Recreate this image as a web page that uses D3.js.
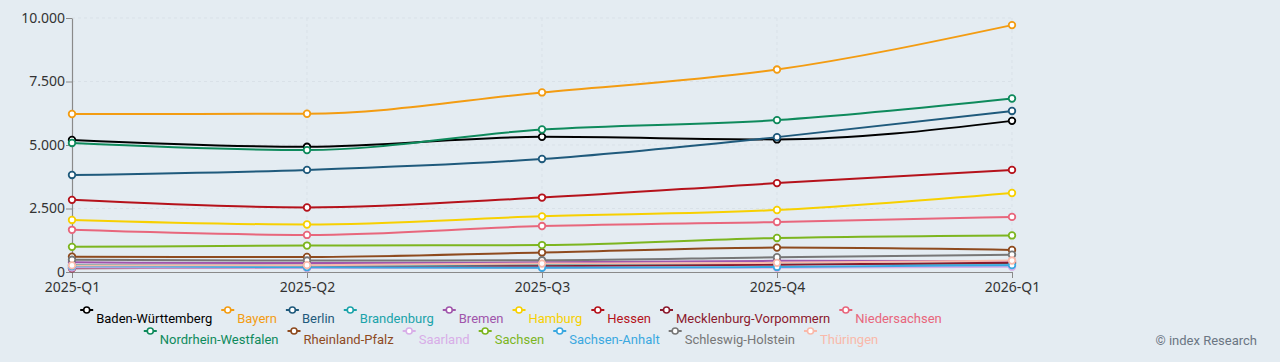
<!DOCTYPE html>
<html>
<head>
<meta charset="utf-8">
<script src="https://cdn.jsdelivr.net/npm/d3@7"></script>
<style>
  html, body { margin: 0; padding: 0; background: #e4ecf2; }
  svg { display: block; }
</style>
</head>
<body>
<svg id="chart" width="1280" height="362"></svg>
<script>
const categories = ["2025-Q1", "2025-Q2", "2025-Q3", "2025-Q4", "2026-Q1"];
const yTicks = [0, 2500, 5000, 7500, 10000];

const seriesNames = [
  "Baden-Württemberg", "Bayern", "Berlin", "Brandenburg", "Bremen", "Hamburg",
  "Hessen", "Mecklenburg-Vorpommern", "Niedersachsen", "Nordrhein-Westfalen",
  "Rheinland-Pfalz", "Saarland", "Sachsen", "Sachsen-Anhalt", "Schleswig-Holstein", "Thüringen"
];
const seriesColors = [
  "#000000", "#f39c12", "#1f5a7c", "#1aa3aa", "#a055ab", "#f7d000",
  "#b5121b", "#8b1a2e", "#e8667c", "#0e8a5c",
  "#8e4a1e", "#d8aee8", "#7cb51f", "#3aa8e0", "#777777", "#f9b9aa"
];
const valuesBW   = [5200, 4930, 5320, 5220, 5950];
const valuesBY   = [6220, 6230, 7070, 7970, 9720];
const valuesBE   = [3820, 4020, 4450, 5310, 6340];
const valuesBB   = [280, 260, 290, 320, 330];
const valuesHB   = [380, 350, 380, 440, 420];
const valuesHH   = [2050, 1870, 2190, 2440, 3110];
const valuesHE   = [2840, 2540, 2930, 3500, 4020];
const valuesMV   = [150, 180, 230, 290, 360];
const valuesNI   = [1660, 1460, 1810, 1970, 2170];
const valuesNW   = [5080, 4800, 5610, 5980, 6830];
const valuesRP   = [600, 590, 770, 960, 870];
const valuesSL   = [180, 160, 170, 170, 210];
const valuesSN   = [990, 1040, 1060, 1340, 1440];
const valuesST   = [230, 190, 170, 200, 270];
const valuesSH   = [480, 450, 460, 580, 680];
const valuesTH   = [260, 270, 330, 360, 450];

const allValues = [valuesBW, valuesBY, valuesBE, valuesBB, valuesHB, valuesHH, valuesHE, valuesMV,
  valuesNI, valuesNW, valuesRP, valuesSL, valuesSN, valuesST, valuesSH, valuesTH];

const series = seriesNames.map((n, i) => ({ name: n, color: seriesColors[i], values: allValues[i] }));

(function () {
const svg = d3.select("#chart");
const mLeft = 72, mRight = 1012, mTop = 18, mBottom = 272;

const x = d3.scalePoint().domain(categories).range([mLeft, mRight]);
const y = d3.scaleLinear().domain([0, 10000]).range([mBottom, mTop]);
const fmt = v => d3.format(",")(v).replace(/,/g, ".");

// grid (very faint)
const grid = svg.append("g");
grid.selectAll("line.h").data(yTicks.filter(t => t > 0)).join("line")
  .attr("x1", mLeft).attr("x2", mRight).attr("y1", d => y(d)).attr("y2", d => y(d))
  .attr("stroke", "#d9e1e8").attr("stroke-dasharray", "3,3").attr("stroke-width", 1);
grid.selectAll("line.v").data(categories.slice(1)).join("line")
  .attr("x1", d => x(d)).attr("x2", d => x(d)).attr("y1", mTop).attr("y2", mBottom)
  .attr("stroke", "#d9e1e8").attr("stroke-dasharray", "3,3").attr("stroke-width", 1);

// axes
const yAxis = svg.append("g").attr("transform", `translate(${mLeft},0)`)
  .call(d3.axisLeft(y).tickValues(yTicks).tickFormat(fmt).tickSize(6).tickSizeOuter(0));
const xAxis = svg.append("g").attr("transform", `translate(0,${mBottom})`)
  .call(d3.axisBottom(x).tickSize(6).tickSizeOuter(0));
[yAxis, xAxis].forEach(a => {
  a.select(".domain").attr("stroke", "#8a8a8a").attr("stroke-width", 1.2);
  a.selectAll(".tick line").attr("stroke", "#8a8a8a");
  a.selectAll("text").attr("fill", "#333").style("font-family", "'Noto Sans', sans-serif").style("font-size", "14px");
});
yAxis.selectAll("text").attr("x", -7).attr("dy", "0.3em");
xAxis.selectAll("text").attr("y", 10);

// lines
const line = d3.line().x((d, i) => x(categories[i])).y(d => y(d)).curve(d3.curveMonotoneX);
const g = svg.append("g");
series.forEach(s => {
  g.append("path").attr("d", line(s.values)).attr("fill", "none")
    .attr("stroke", s.color).attr("stroke-width", 2);
});
series.forEach(s => {
  g.selectAll(null).data(s.values).join("circle")
    .attr("cx", (d, i) => x(categories[i])).attr("cy", d => y(d)).attr("r", 3.3)
    .attr("fill", "#ffffff").attr("stroke", s.color).attr("stroke-width", 1.8);
});

// legend
const legend = svg.append("g");
const rows = [series.slice(0, 9), series.slice(9)];
const rowY = [323, 344];
const centerX = 511;
rows.forEach((row, ri) => {
  const items = row.map(s => {
    const it = legend.append("g");
    it.append("line").attr("x1", 0).attr("x2", 13).attr("y1", -13).attr("y2", -13)
      .attr("stroke", s.color).attr("stroke-width", 2);
    it.append("circle").attr("cx", 6.5).attr("cy", -13).attr("r", 3)
      .attr("fill", "#ffffff").attr("stroke", s.color).attr("stroke-width", 1.6);
    const t = it.append("text").attr("x", 16).attr("y", 0).text(s.name)
      .attr("fill", s.color).style("font-family", "Roboto, sans-serif").style("font-size", "13px");
    return { it, w: 16 + t.node().getComputedTextLength() };
  });
  const gap = 9;
  const total = d3.sum(items, d => d.w) + gap * (items.length - 1);
  let cx = centerX - total / 2;
  items.forEach(d => {
    d.it.attr("transform", `translate(${cx},${rowY[ri]})`);
    cx += d.w + gap;
  });
});

svg.append("text").attr("x", 1257).attr("y", 345).attr("text-anchor", "end")
  .text("© index Research").attr("fill", "#6b7683")
  .style("font-family", "Roboto, sans-serif").style("font-size", "13px");
})();
</script>
</body>
</html>
